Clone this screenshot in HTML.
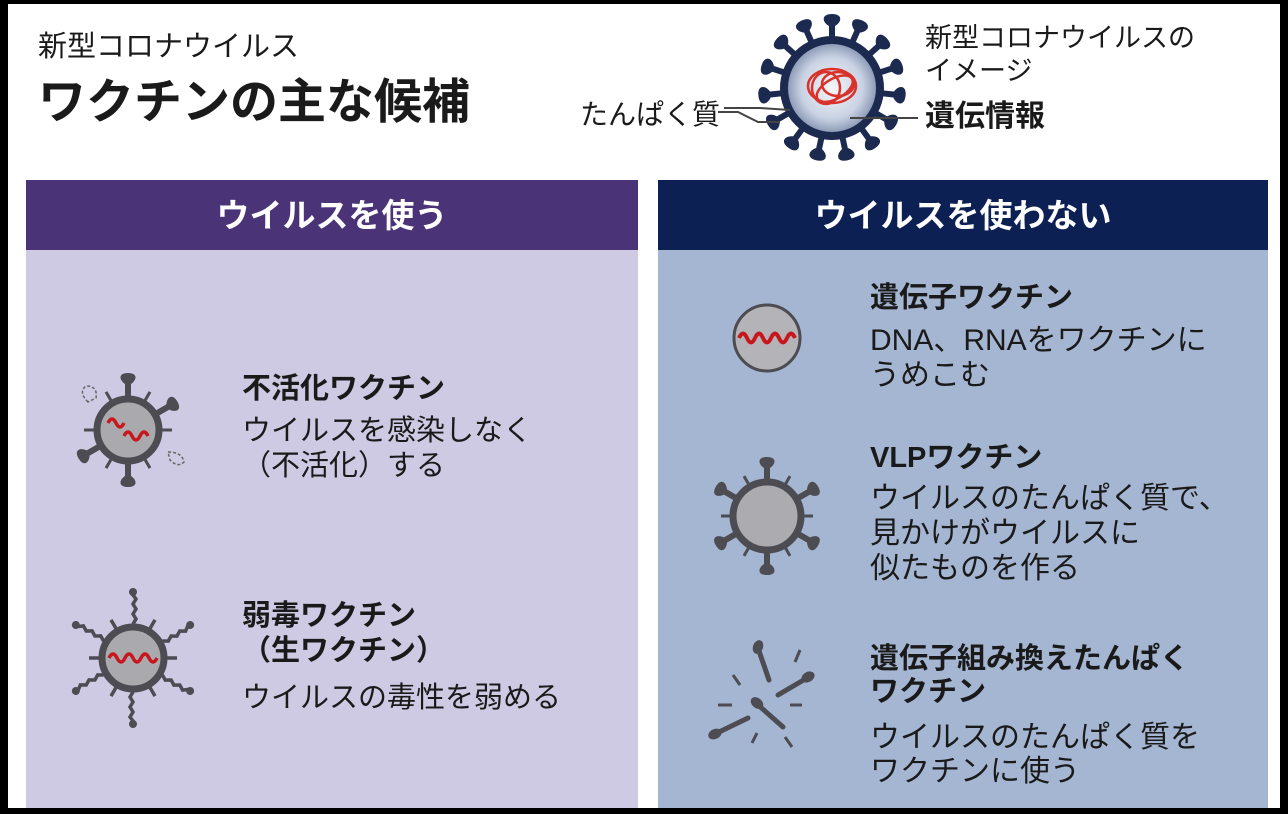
<!DOCTYPE html>
<html><head><meta charset="utf-8"><style>
body{margin:0;background:#000;}
svg{display:block}
text{font-family:"Liberation Sans","Noto Sans CJK JP",sans-serif;fill:#1a1a1a}
.b{font-weight:bold}
.w{fill:#fff;font-weight:bold}
</style></head><body>
<svg width="1288" height="814" viewBox="0 0 1288 814">
<defs>
<radialGradient id="g" cx="0.5" cy="0.5" r="0.5"><stop offset="0" stop-color="#f4f6fa"/><stop offset="0.7" stop-color="#c9d2e3"/><stop offset="1" stop-color="#8f9cb8"/></radialGradient>
<path id="sp" d="M-3,2 L-3,-14 C-10,-18 -11,-26 0,-26 C11,-26 10,-18 3,-14 L3,2 Z"/>
<path id="bs" d="M-3,2 L-3,-12 C-9,-16 -10,-23 0,-23 C10,-23 9,-16 3,-12 L3,2 Z"/>
</defs>
<rect x="8" y="4" width="1272" height="804" fill="#fff"/>
<text x="38" y="56" font-size="29">新型コロナウイルス</text>
<text x="38" y="118" font-size="48" class="b">ワクチンの主な候補</text>
<!-- big virus -->
<g transform="translate(832,88)" fill="#1c2a4f">
<use href="#sp" transform="rotate(0) translate(0,-48)"/><use href="#sp" transform="rotate(24) translate(0,-48)"/><use href="#sp" transform="rotate(48) translate(0,-48)"/><use href="#sp" transform="rotate(72) translate(0,-48)"/><use href="#sp" transform="rotate(96) translate(0,-48)"/><use href="#sp" transform="rotate(120) translate(0,-48)"/><use href="#sp" transform="rotate(144) translate(0,-48)"/><use href="#sp" transform="rotate(168) translate(0,-48)"/><use href="#sp" transform="rotate(192) translate(0,-48)"/><use href="#sp" transform="rotate(216) translate(0,-48)"/><use href="#sp" transform="rotate(240) translate(0,-48)"/><use href="#sp" transform="rotate(264) translate(0,-48)"/><use href="#sp" transform="rotate(288) translate(0,-48)"/><use href="#sp" transform="rotate(312) translate(0,-48)"/><use href="#sp" transform="rotate(336) translate(0,-48)"/>
<circle r="52" fill="#1c2a4f"/><circle r="44" fill="url(#g)"/>
<g fill="none" stroke="#d8322a" stroke-width="2.5">
<ellipse cx="0" cy="-2" rx="24" ry="17"/><ellipse cx="-6" cy="0" rx="14" ry="16"/><ellipse cx="6" cy="-4" rx="16" ry="12"/><ellipse cx="2" cy="2" rx="20" ry="10" transform="rotate(-30)"/>
</g>
</g>
<polyline points="718,112 738,112 758,122 780,122" fill="none" stroke="#444" stroke-width="2"/>
<polyline points="724,108 760,108 790,110" fill="none" stroke="#444" stroke-width="2"/>
<line x1="850" y1="118" x2="918" y2="118" stroke="#444" stroke-width="2"/>
<text x="580" y="124" font-size="28">たんぱく質</text>
<text x="925" y="47" font-size="27">新型コロナウイルスの</text>
<text x="925" y="80" font-size="27">イメージ</text>
<text x="925" y="126" font-size="30" class="b">遺伝情報</text>
<!-- panels -->
<rect x="26" y="180" width="612" height="70" fill="#4a3477"/>
<rect x="26" y="250" width="612" height="558" fill="#cfcae3"/>
<rect x="658" y="180" width="610" height="70" fill="#0d2054"/>
<rect x="658" y="250" width="610" height="558" fill="#a5b6d2"/>
<text x="332" y="227" font-size="33" class="w" text-anchor="middle">ウイルスを使う</text>
<text x="963" y="227" font-size="33" class="w" text-anchor="middle">ウイルスを使わない</text>
<!-- inactivated -->
<g transform="translate(128,430)" fill="#4c4c52" stroke="#4c4c52">
<g stroke="none"><use href="#bs" transform="rotate(0) translate(0,-34)"/><use href="#bs" transform="rotate(60) translate(0,-34)"/><use href="#bs" transform="rotate(180) translate(0,-34)"/><use href="#bs" transform="rotate(240) translate(0,-34)"/></g>
<g stroke-width="3"><line x1="0" y1="-44" x2="0" y2="-34" transform="rotate(30)"/><line x1="0" y1="-44" x2="0" y2="-34" transform="rotate(90)"/><line x1="0" y1="-44" x2="0" y2="-34" transform="rotate(150)"/><line x1="0" y1="-44" x2="0" y2="-34" transform="rotate(210)"/><line x1="0" y1="-44" x2="0" y2="-34" transform="rotate(270)"/><line x1="0" y1="-44" x2="0" y2="-34" transform="rotate(330)"/></g>
<circle r="31" fill="#a9a9ae" stroke-width="7"/>
<path d="M-20,-7 q4,-8 8,0 q4,8 8,0" fill="none" stroke="#c8161d" stroke-width="3.5"/>
<path d="M-4,6 q4,-8 8,0 q4,8 8,0 q4,-8 8,0" fill="none" stroke="#c8161d" stroke-width="3.5"/>
<g fill="none" stroke="#666" stroke-width="1.5" stroke-dasharray="3,2"><path d="M-40,-28 q-10,-10 -2,-16 q12,0 10,12 z"/><path d="M40,22 q14,0 16,10 q-6,6 -14,-2 z"/></g>
</g>
<!-- attenuated -->
<g transform="translate(133,658)" stroke="#4c4c52" fill="none" stroke-width="3.5">
<path d="M0,-34 l3,-5 l-3,-5 l3,-5 l-3,-5 l3,-5 l-3,-4 l0,-5" transform="rotate(0)"/>
<path d="M0,-34 l3,-5 l-3,-5 l3,-5 l-3,-5 l3,-5 l-3,-4 l0,-5" transform="rotate(60)"/>
<path d="M0,-34 l3,-5 l-3,-5 l3,-5 l-3,-5 l3,-5 l-3,-4 l0,-5" transform="rotate(120)"/>
<path d="M0,-34 l3,-5 l-3,-5 l3,-5 l-3,-5 l3,-5 l-3,-4 l0,-5" transform="rotate(180)"/>
<path d="M0,-34 l3,-5 l-3,-5 l3,-5 l-3,-5 l3,-5 l-3,-4 l0,-5" transform="rotate(240)"/>
<path d="M0,-34 l3,-5 l-3,-5 l3,-5 l-3,-5 l3,-5 l-3,-4 l0,-5" transform="rotate(300)"/>
<g fill="#4c4c52" stroke="none"><circle cy="-66" r="4" transform="rotate(0)"/><circle cy="-66" r="4" transform="rotate(60)"/><circle cy="-66" r="4" transform="rotate(120)"/><circle cy="-66" r="4" transform="rotate(180)"/><circle cy="-66" r="4" transform="rotate(240)"/><circle cy="-66" r="4" transform="rotate(300)"/></g>
<g><line x1="0" y1="-34" x2="0" y2="-44" transform="rotate(30)"/><line x1="0" y1="-34" x2="0" y2="-44" transform="rotate(90)"/><line x1="0" y1="-34" x2="0" y2="-44" transform="rotate(150)"/><line x1="0" y1="-34" x2="0" y2="-44" transform="rotate(210)"/><line x1="0" y1="-34" x2="0" y2="-44" transform="rotate(270)"/><line x1="0" y1="-34" x2="0" y2="-44" transform="rotate(330)"/></g>
<circle r="31" fill="#a9a9ae" stroke-width="7"/>
<path d="M-24,0 q4,-8 8,0 q4,8 8,0 q4,-8 8,0 q4,8 8,0 q4,-8 8,0 q4,8 8,0" stroke="#c8161d"/>
</g>
<text x="242" y="398" font-size="29" class="b">不活化ワクチン</text>
<text x="242" y="440" font-size="29">ウイルスを感染しなく</text>
<text x="242" y="475" font-size="29">（不活化）する</text>
<text x="242" y="625" font-size="29" class="b">弱毒ワクチン</text>
<text x="242" y="660" font-size="29" class="b">（生ワクチン）</text>
<text x="242" y="707" font-size="29">ウイルスの毒性を弱める</text>
<!-- gene -->
<g transform="translate(767,338)"><circle r="33" fill="#b4b4b8" stroke="#4c4c52" stroke-width="3"/>
<path d="M-28,0 q4,-9 8,0 q4,9 8,0 q4,-9 8,0 q4,9 8,0 q4,-9 8,0 q4,9 8,0 q4,-9 8,0" fill="none" stroke="#c8161d" stroke-width="4"/></g>
<!-- VLP -->
<g transform="translate(767,516)" fill="#4c4c52" stroke="#4c4c52">
<g stroke="none"><use href="#bs" transform="rotate(0) translate(0,-36)"/><use href="#bs" transform="rotate(60) translate(0,-36)"/><use href="#bs" transform="rotate(120) translate(0,-36)"/><use href="#bs" transform="rotate(180) translate(0,-36)"/><use href="#bs" transform="rotate(240) translate(0,-36)"/><use href="#bs" transform="rotate(300) translate(0,-36)"/></g>
<g stroke-width="3"><line x1="0" y1="-46" x2="0" y2="-36" transform="rotate(30)"/><line x1="0" y1="-46" x2="0" y2="-36" transform="rotate(90)"/><line x1="0" y1="-46" x2="0" y2="-36" transform="rotate(150)"/><line x1="0" y1="-46" x2="0" y2="-36" transform="rotate(210)"/><line x1="0" y1="-46" x2="0" y2="-36" transform="rotate(270)"/><line x1="0" y1="-46" x2="0" y2="-36" transform="rotate(330)"/></g>
<circle r="34" fill="#acacb0" stroke-width="7"/></g>
<!-- fragments -->
<g fill="#4c4c52" stroke="#4c4c52" stroke-linecap="round">
<g stroke-width="5"><line x1="758" y1="648" x2="769" y2="680"/><line x1="807" y1="678" x2="778" y2="695"/><line x1="757" y1="704" x2="783" y2="727"/><line x1="715" y1="734" x2="748" y2="718"/></g>
<g stroke="none"><ellipse cx="758" cy="647" rx="7" ry="5" transform="rotate(-70 758 647)"/><ellipse cx="808" cy="677" rx="7" ry="5" transform="rotate(-30 808 677)"/><ellipse cx="757" cy="703" rx="7" ry="5" transform="rotate(40 757 703)"/><ellipse cx="715" cy="734" rx="7" ry="5" transform="rotate(-25 715 734)"/></g>
<g stroke-width="3" stroke-linecap="butt"><line x1="800" y1="650" x2="795" y2="662"/><line x1="733" y1="675" x2="740" y2="685"/><line x1="718" y1="705" x2="732" y2="705"/><line x1="790" y1="705" x2="802" y2="705"/><line x1="757" y1="733" x2="752" y2="743"/><line x1="785" y1="737" x2="792" y2="747"/></g>
</g>
<text x="870" y="307" font-size="29" class="b">遺伝子ワクチン</text>
<text x="870" y="350" font-size="30">DNA、RNAをワクチンに</text>
<text x="870" y="385" font-size="30">うめこむ</text>
<text x="870" y="467" font-size="29" class="b">VLPワクチン</text>
<text x="870" y="508" font-size="30">ウイルスのたんぱく質で、</text>
<text x="870" y="543" font-size="30">見かけがウイルスに</text>
<text x="870" y="578" font-size="30">似たものを作る</text>
<text x="870" y="668" font-size="29" class="b">遺伝子組み換えたんぱく</text>
<text x="870" y="701" font-size="29" class="b">ワクチン</text>
<text x="870" y="747" font-size="30">ウイルスのたんぱく質を</text>
<text x="870" y="781" font-size="30">ワクチンに使う</text>
</svg>
</body></html>
